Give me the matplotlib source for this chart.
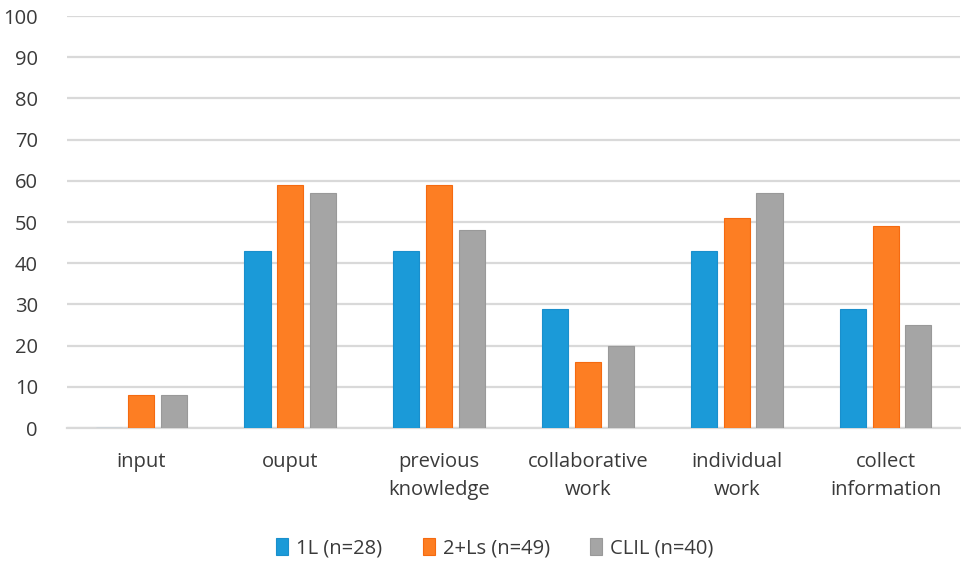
import numpy as np
import matplotlib.pyplot as plt

categories = ["input", "ouput", "previous\nknowledge", "collaborative\nwork",
              "individual\nwork", "collect\ninformation"]
series_names = ["1L (n=28)", "2+Ls (n=49)", "CLIL (n=40)"]
one_l = [0, 43, 43, 29, 43, 29]
two_ls = [8, 59, 59, 16, 51, 49]
clil = [8, 57, 48, 20, 57, 25]
y_ticks = list(range(0, 101, 10))

colors = ["#1b9ad8", "#fd7e23", "#a5a5a5"]
edges = ["#1a8fcc", "#f56a10", "#999999"]

plt.rcParams["font.family"] = ["Open Sans", "DejaVu Sans"]

fig = plt.figure(figsize=(9.61, 5.64), dpi=100)
ax = fig.add_axes([67 / 961, 1 - 428 / 564, (960 - 67) / 961, (428 - 16) / 564])

x = np.arange(len(categories))
width = 0.175
offset = 0.22
for i, (vals, name) in enumerate(zip([one_l, two_ls, clil], series_names)):
    ax.bar(x + (i - 1) * offset, vals, width, color=colors[i], edgecolor=edges[i],
           linewidth=0.8, label=name, zorder=3)

ax.set_xlim(-0.5, len(categories) - 0.5)
ax.set_ylim(0, 100)
ax.set_yticks(y_ticks)
ax.yaxis.grid(True, color="#d9d9d9", linewidth=1.6, zorder=0)
ax.set_axisbelow(True)
for s in ["top", "right", "left"]:
    ax.spines[s].set_visible(False)
ax.spines["bottom"].set_color("#d9d9d9")
ax.spines["bottom"].set_linewidth(1.6)
ax.tick_params(axis="y", length=0, labelsize=14.5, colors="#3a3a3a", pad=21)
ax.tick_params(axis="x", length=0, labelsize=14.5, colors="#3a3a3a", pad=17)
ax.set_xticks(x)
ax.set_xticklabels(categories, linespacing=1.55)
for lbl in ax.get_yticklabels():
    lbl.set_horizontalalignment("right")

leg = fig.legend(loc="center", bbox_to_anchor=(0.515, 1 - 548 / 564), ncol=3,
                 frameon=False, fontsize=14.5, handlelength=0.6, handleheight=0.9,
                 handletextpad=0.4, columnspacing=2.0)
for t in leg.get_texts():
    t.set_color("#3a3a3a")

fig.savefig("out.png", dpi=100, facecolor="white")
